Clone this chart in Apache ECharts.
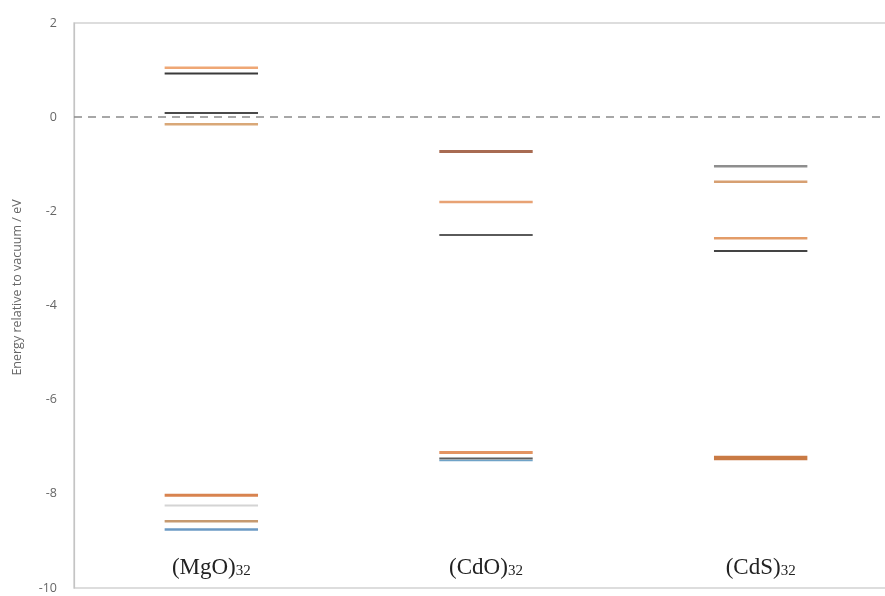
<!DOCTYPE html>
<html>
<head>
<meta charset="utf-8">
<script src="https://cdn.jsdelivr.net/npm/echarts@6/dist/echarts.min.js"></script>
<style>html,body{margin:0;padding:0;background:#fff}#c{width:885px;height:596px}</style>
</head>
<body>
<div id="c"></div>
<script>
// ---- data ----
const categories = ['(MgO)', '(CdO)', '(CdS)'];
const subscripts = ['32', '32', '32'];
const mgoLevels = [1.05, 0.93, 0.09, -0.15, -8.03, -8.25, -8.58, -8.76];
const cdoLevels = [-0.73, -1.80, -2.50, -7.12, -7.25, -7.29];
const cdsLevels = [-1.04, -1.37, -2.57, -2.84, -7.24];
const vacuumLevel = 0;
const yMin = -10, yMax = 2, yStep = 2;
const axisTitle = 'Energy relative to vacuum / eV';

// ---- styles (parallel to the level arrays) ----
const mgoStyles = [
  ['#EFA775', 2.5], ['#3a3a3a', 2], ['#4a4a4a', 2], ['#D9A878', 2.5],
  ['#D8834F', 3], ['#D4D4D4', 2], ['#C69A70', 2.5], ['#6B9AC4', 2.5]
];
const cdoStyles = [
  ['#A86B52', 3], ['#E8A274', 2.5], ['#5a5a5a', 2],
  ['#E39462', 3], ['#5E5E5E', 2], ['#6FA3C8', 1.5]
];
const cdsStyles = [
  ['#8E8E8E', 2.5], ['#D7A072', 2.5], ['#E39C68', 2.5], ['#444444', 2], ['#C97A44', 4.5]
];

const levelSets = [mgoLevels, cdoLevels, cdsLevels];
const styleSets = [mgoStyles, cdoStyles, cdsStyles];
const items = [];
levelSets.forEach((levels, ci) => {
  levels.forEach((v, i) => {
    items.push({ value: [ci, v], color: styleSets[ci][i][0], width: styleSets[ci][i][1] });
  });
});

const chart = echarts.init(document.getElementById('c'), null, { renderer: 'canvas' });
chart.setOption({
  animation: false,
  backgroundColor: '#ffffff',
  grid: { left: 74, top: 23, width: 824, height: 565, outerBoundsMode: 'none', containLabel: false, show: true, borderColor: '#d2d2d2', borderWidth: 1.5 },
  xAxis: {
    type: 'category',
    data: categories,
    axisLine: { show: false },
    axisTick: { show: false },
    splitLine: { show: false },
    axisLabel: {
      inside: true,
      margin: 9,
      formatter: (val, idx) => '{m|' + val + '}{s|' + subscripts[idx] + '}',
      rich: {
        m: { fontFamily: 'Liberation Serif', fontSize: 23, color: '#222', verticalAlign: 'bottom', lineHeight: 24 },
        s: { fontFamily: 'Liberation Serif', fontSize: 15, color: '#222', verticalAlign: 'bottom', lineHeight: 17 }
      }
    }
  },
  yAxis: {
    type: 'value',
    min: yMin, max: yMax, interval: yStep,
    name: axisTitle,
    nameLocation: 'middle',
    nameGap: 50,
    nameTextStyle: { fontFamily: 'Open Sans', fontSize: 12.5, color: '#666', padding: [0, 0, 0, 36] },
    axisLine: { show: true, lineStyle: { color: '#c4c4c4', width: 1.2 } },
    axisTick: { show: false },
    splitLine: { show: false },
    axisLabel: { fontFamily: 'Open Sans', fontSize: 12.5, color: '#666', margin: 17 }
  },
  series: [{
    type: 'custom',
    data: items,
    clip: false,
    renderItem: (params, api) => {
      const it = items[params.dataIndex];
      const c = api.coord([api.value(0), api.value(1)]);
      const half = api.size([1, 0])[0] * 0.17;
      return {
        type: 'line',
        shape: { x1: c[0] - half, y1: c[1], x2: c[0] + half, y2: c[1] },
        style: { stroke: it.color, lineWidth: it.width }
      };
    },
    markLine: {
      silent: true,
      symbol: 'none',
      label: { show: false },
      lineStyle: { color: '#8a8a8a', type: [8, 6], width: 1.5 },
      data: [{ yAxis: vacuumLevel }]
    }
  }]
});
</script>
</body>
</html>
